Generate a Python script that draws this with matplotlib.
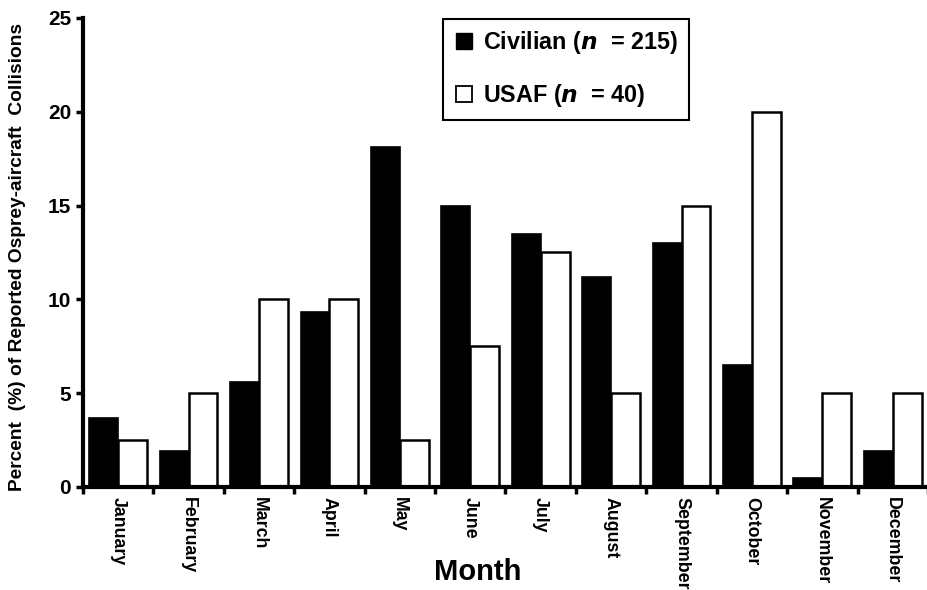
import numpy as np
import matplotlib
matplotlib.use("Agg")
import matplotlib.pyplot as plt
from matplotlib.lines import Line2D

plt.rcParams['font.family'] = ['Liberation Sans', 'DejaVu Sans']

months = ['January', 'February', 'March', 'April', 'May', 'June', 'July',
          'August', 'September', 'October', 'November', 'December']
civilian = [3.7, 1.9, 5.6, 9.3, 18.1, 15.0, 13.5, 11.2, 13.0, 6.5, 0.5, 1.9]
usaf = [2.5, 5.0, 10.0, 10.0, 2.5, 7.5, 12.5, 5.0, 15.0, 20.0, 5.0, 5.0]
labels = ['Civilian ($\\mathbfit{n}$  = 215)', 'USAF ($\\mathbfit{n}$  = 40)']

fig = plt.figure(figsize=(9.28, 5.9), dpi=100)
ax = fig.add_axes([0.0894, 0.1746, 0.9106, 0.795])

x = np.arange(len(months))
w = 0.41
ax.bar(x - w / 2, civilian, w, color='black', edgecolor='black', linewidth=1.2)
ax.bar(x + w / 2, usaf, w, color='white', edgecolor='black', linewidth=1.8)

ax.set_xlim(-0.5, len(months) - 0.5)
ax.set_ylim(0, 25)
ax.set_yticks([0, 5, 10, 15, 20, 25])
ax.tick_params(axis='y', labelsize=15, width=2.5, length=5, direction='out')
for t in ax.get_yticklabels():
    t.set_fontweight('bold')

ax.set_xticks(x)
ax.set_xticklabels(months, rotation=270, fontsize=12.8, fontweight='bold')
ax.tick_params(axis='x', which='major', length=0, pad=7)
ax.set_xticks(np.arange(len(months) + 1) - 0.5, minor=True)
ax.tick_params(axis='x', which='minor', length=5, width=2.5, direction='out')

for s in ['top', 'right']:
    ax.spines[s].set_visible(False)
for s in ['left', 'bottom']:
    ax.spines[s].set_linewidth(3)

ax.set_xlabel('Month', fontsize=21, fontweight='bold')
ax.xaxis.set_label_coords(0.467, -0.181)
ax.xaxis.label.set_va('center')
ax.set_ylabel('Percent  (%) of Reported Osprey-aircraft  Collisions',
              fontsize=13.8, fontweight='bold')
ax.yaxis.set_label_coords(-0.067, 0.49)

handles = [Line2D([], [], marker='s', linestyle='none', markersize=12,
                  markerfacecolor='black', markeredgecolor='black'),
           Line2D([], [], marker='s', linestyle='none', markersize=12,
                  markerfacecolor='white', markeredgecolor='black', markeredgewidth=1.3)]
leg = ax.legend(handles, labels, loc='upper left', bbox_to_anchor=(0.4255, 0.998),
                prop={'weight': 'bold', 'size': 16.8}, fancybox=False,
                edgecolor='black', handletextpad=0.4, labelspacing=1.1,
                borderpad=0.45, borderaxespad=0, handlelength=0.9, framealpha=1)
leg.get_frame().set_linewidth(1.5)

fig.savefig('out.png', dpi=100)
